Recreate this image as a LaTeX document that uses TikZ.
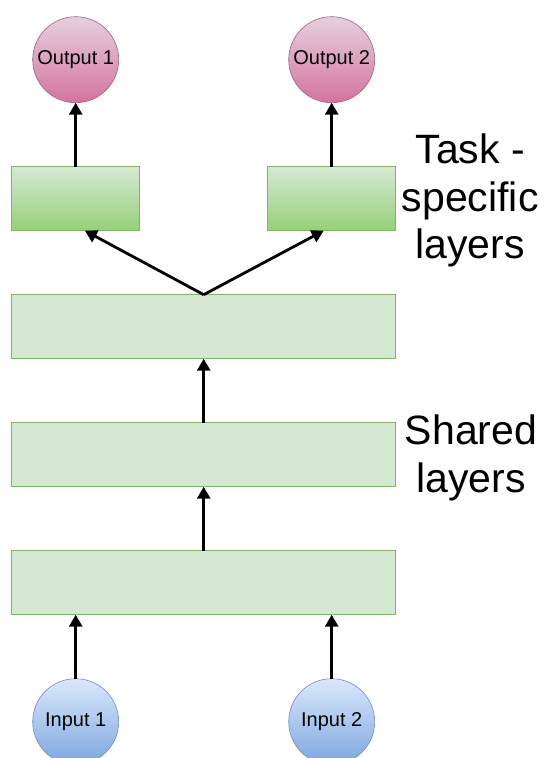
\documentclass[tikz,border=0pt]{standalone}
\usepackage{fontspec}
\setmainfont{Liberation Sans}
\usetikzlibrary{positioning,arrows.meta}
\definecolor{layerfill}{HTML}{D5E8D4}
\definecolor{layerdark}{HTML}{97D077}
\definecolor{layerdraw}{HTML}{82B366}
\definecolor{outtop}{HTML}{E6D0DE}
\definecolor{outbottom}{HTML}{D5739D}
\definecolor{outdraw}{HTML}{996185}
\definecolor{intop}{HTML}{DAE8FC}
\definecolor{inbottom}{HTML}{7EA6E0}
\definecolor{indraw}{HTML}{6C8EBF}
\tikzstyle{sharedlayer}=[rectangle,draw=layerdraw,fill=layerfill,line width=0.8pt,minimum width=384pt,minimum height=64pt,inner sep=0pt,outer sep=0pt]
\tikzstyle{tasklayer}=[rectangle,draw=layerdraw,top color=layerfill,bottom color=layerdark,line width=0.8pt,minimum width=128pt,minimum height=64pt,inner sep=0pt,outer sep=0pt]
\tikzstyle{unitnode}=[circle,line width=0.6pt,minimum size=86pt,inner sep=0pt,outer sep=0pt,font=\fontsize{20}{24}\selectfont]
\tikzstyle{outnode}=[unitnode,draw=outdraw,top color=outtop,bottom color=outbottom]
\tikzstyle{innode}=[unitnode,draw=indraw,top color=intop,bottom color=inbottom]
\tikzstyle{arrow}=[line width=2.8pt,-{Triangle[length=12pt,width=13pt]}]
\tikzstyle{sidetext}=[inner sep=0pt,align=center,font=\fontsize{41}{47.5}\selectfont]

\begin{document}
\begin{tikzpicture}[x=1pt,y=1pt,node distance=64pt]
            \useasboundingbox (0,0) rectangle (544,758);
            \node (S3) [sharedlayer] at (203.7,175.3) {};
            \node (S2) [sharedlayer, above=of S3] {};
            \node (S1) [sharedlayer, above=of S2] {};
            \node (T1) [tasklayer, above=of S1.north west, anchor=south west] {};
            \node (T2) [tasklayer, above=of S1.north east, anchor=south east] {};
            \node (O1) [outnode, above=of T1] {Output 1};
            \node (O2) [outnode, above=of T2] {Output 2};
            \node (I1) [innode, below=of S3.south west, anchor=north, xshift=64pt] {Input 1};
            \node (I2) [innode, below=of S3.south east, anchor=north, xshift=-64pt] {Input 2};
            \coordinate (J) at (S1.north);

            \node (TL) [sidetext, right=6pt of T2, yshift=-2pt] {Task -\\specific\\layers};
            \node (SL) [sidetext, right=9pt of S2, yshift=-3pt] {Shared\\layers};

            \path[arrow] (I1) edge (I1 |- S3.south);
            \path[arrow] (I2) edge (I2 |- S3.south);
            \path[arrow] (S3) edge (S2);
            \path[arrow] (S2) edge (S1);
            \path[arrow] (J) edge (T1.-74);
            \path[arrow] (J) edge (T2.-104);
            \path[arrow] (T1) edge (O1);
            \path[arrow] (T2) edge (O2);
\end{tikzpicture}
\end{document}
